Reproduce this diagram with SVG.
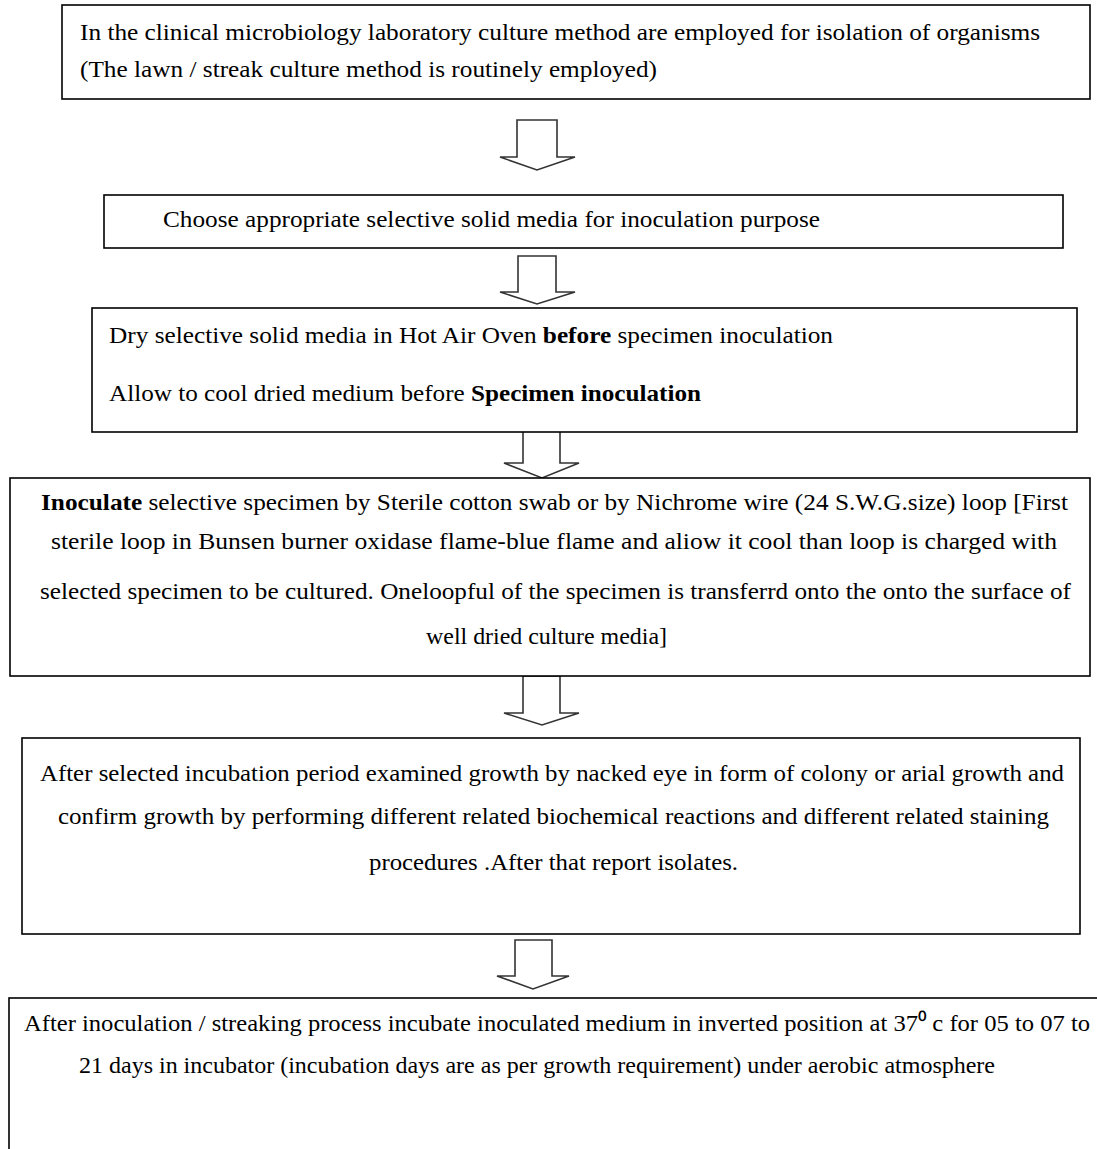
<svg xmlns="http://www.w3.org/2000/svg" width="1097" height="1149" viewBox="0 0 1097 1149">
<style>
.box{fill:#fff;stroke:#000;stroke-width:1.6}
.arr{fill:#fff;stroke:#333;stroke-width:1.6;stroke-linejoin:miter}
text{font-family:"Liberation Serif","Times New Roman",serif;font-size:24px;fill:#000}
.b{font-weight:bold}
</style>
<rect width="1097" height="1149" fill="#fff"/>
<g id="connectors">
<path class="arr" d="M517,120 H557 V157 H575 L537,170 L500,157 H517 Z"/>
<path class="arr" d="M518,256 H556 V292 H575 L537,304 L500,292 H518 Z"/>
<path class="arr" d="M523,428 H560 V463 H579 L542,478 L504,463 H523 Z"/>
<path class="arr" d="M523,676 H560 V713 H579 L542,725 L504,713 H523 Z"/>
<path class="arr" d="M515,940 H552 V976 H569 L533,989 L497,976 H515 Z"/>
</g>
<g id="node1">
<rect class="box" x="62" y="5" width="1028" height="94"/>
<text x="80" y="40" textLength="960" lengthAdjust="spacingAndGlyphs">In the clinical microbiology laboratory culture method are employed for isolation of organisms</text>
<text x="80" y="77" textLength="577" lengthAdjust="spacingAndGlyphs">(The lawn / streak culture method is routinely employed)</text>
</g>
<g id="node2">
<rect class="box" x="104" y="195" width="959" height="53"/>
<text x="163" y="227" textLength="657" lengthAdjust="spacingAndGlyphs">Choose appropriate selective solid media for inoculation purpose</text>
</g>
<g id="node3">
<rect class="box" x="92" y="308" width="985" height="124"/>
<text x="109" y="343" textLength="724" lengthAdjust="spacingAndGlyphs">Dry selective solid media in Hot Air  Oven <tspan class="b">before</tspan> specimen inoculation</text>
<text x="109" y="401" textLength="592" lengthAdjust="spacingAndGlyphs">Allow to cool dried medium before <tspan class="b">Specimen inoculation</tspan></text>
</g>
<g id="node4">
<rect class="box" x="10" y="478" width="1080" height="198"/>
<text x="41" y="510" textLength="1027" lengthAdjust="spacingAndGlyphs"><tspan class="b">Inoculate</tspan>  selective specimen by Sterile cotton swab or by Nichrome wire (24 S.W.G.size) loop [First</text>
<text x="51" y="549" textLength="1006" lengthAdjust="spacingAndGlyphs">sterile loop in Bunsen burner oxidase flame-blue flame and aliow it cool than loop is charged with</text>
<text x="40" y="599" textLength="1031" lengthAdjust="spacingAndGlyphs">selected specimen to be cultured. Oneloopful of the specimen is transferrd onto the onto the surface of</text>
<text x="426" y="644" textLength="241" lengthAdjust="spacingAndGlyphs">well dried culture media]</text>
</g>
<g id="node5">
<rect class="box" x="22" y="738" width="1058" height="196"/>
<text x="40" y="781" textLength="1024" lengthAdjust="spacingAndGlyphs">After selected incubation period examined growth by nacked eye in form of colony or arial growth and</text>
<text x="58" y="824" textLength="991" lengthAdjust="spacingAndGlyphs">confirm growth by performing different related biochemical reactions and different related staining</text>
<text x="369" y="870" textLength="369" lengthAdjust="spacingAndGlyphs">procedures .After that report isolates.</text>
</g>
<g id="node6">
<rect class="box" x="9" y="998" width="1100" height="170"/>
<text x="24" y="1031" textLength="1066" lengthAdjust="spacingAndGlyphs">After inoculation / streaking process incubate inoculated medium in inverted position at 37⁰ c for 05 to 07 to</text>
<text x="79" y="1073" textLength="916" lengthAdjust="spacingAndGlyphs">21 days in incubator (incubation days are as per growth requirement) under aerobic atmosphere</text>
</g>
</svg>
